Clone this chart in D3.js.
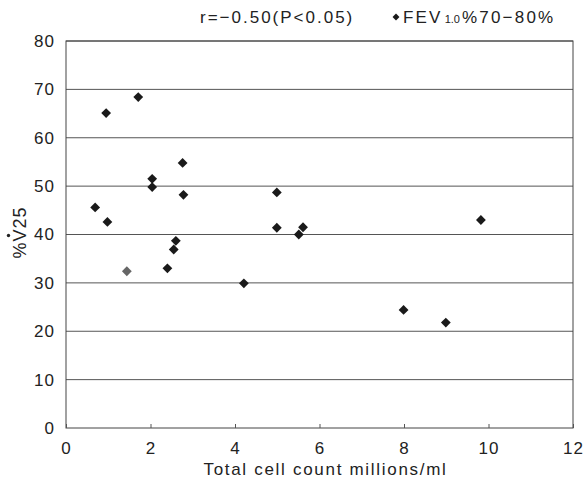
<!DOCTYPE html>
<html><head><meta charset="utf-8">
<script src="https://cdn.jsdelivr.net/npm/d3@7"></script>
<style>body{margin:0;background:#fff}svg{display:block}text{font-family:"Liberation Sans",Arial,Helvetica,sans-serif;fill:#222}</style>
</head><body><div id="chart"></div>
<script>
const cellCount = [1.71,0.95,2.76,2.04,2.04,2.78,0.69,0.98,4.99,4.99,5.61,5.51,2.60,2.55,1.44,2.40,4.21,9.82,7.99,8.99];
const v25 = [68.4,65.1,54.8,51.5,49.8,48.2,45.6,42.6,48.7,41.4,41.5,40.0,38.7,36.9,32.4,33.0,29.9,43.0,24.4,21.8];
const xTicks = [0,2,4,6,8,10,12];
const yTicks = [0,10,20,30,40,50,60,70,80];
const corrText = "r=\u22120.50(P<0.05)";
const legendLabel = ["FEV","1.0","%70\u221280%"];
const xTitle = "Total cell count millions/ml";
const yTitle = ["%","V","25"];

const W=588,H=482, m={l:66,r:15,t:41,b:54};
const FS=17;
const svg=d3.select("#chart").append("svg").attr("width",W).attr("height",H);
const x=d3.scaleLinear().domain([0,12]).range([m.l,W-m.r]);
const y=d3.scaleLinear().domain([0,80]).range([H-m.b,m.t]);

// gridlines
svg.append("g").selectAll("line").data(yTicks.filter(d=>d>0)).join("line")
  .attr("x1",x(0)).attr("x2",x(12)).attr("y1",d=>y(d)).attr("y2",d=>y(d))
  .attr("stroke","#555").attr("stroke-width",1);
// frame
svg.append("rect").attr("x",x(0)).attr("y",y(80)).attr("width",x(12)-x(0)).attr("height",y(0)-y(80))
  .attr("fill","none").attr("stroke","#444").attr("stroke-width",1);

// x axis
const xa=svg.append("g").attr("transform",`translate(0,${y(0)})`)
  .call(d3.axisBottom(x).tickValues(xTicks).tickSize(-4).tickPadding(14).tickFormat(d3.format("d")));
xa.select(".domain").remove();
xa.selectAll("line").attr("stroke","#555");
xa.selectAll("text").attr("font-size",FS).attr("letter-spacing","1px").attr("fill","#222").attr("font-family","Liberation Sans, Arial, sans-serif");
// y axis
const ya=svg.append("g").attr("transform",`translate(${x(0)},0)`)
  .call(d3.axisLeft(y).tickValues(yTicks).tickSize(0).tickPadding(11).tickFormat(d3.format("d")));
ya.select(".domain").remove();
ya.selectAll("text").attr("font-size",FS).attr("letter-spacing","1px").attr("fill","#222").attr("font-family","Liberation Sans, Arial, sans-serif");

// points
const pts=cellCount.map((c,i)=>({x:c,y:v25[i]}));
svg.append("g").selectAll("path").data(pts).join("path")
  .attr("d",d3.symbol(d3.symbolSquare,48))
  .attr("transform",d=>`translate(${x(d.x)},${y(d.y)}) rotate(45)`)
  .attr("fill",(d,i)=>i===14?"#666":"#1a1a1a");

// titles
svg.append("text").attr("x",(x(0)+x(12))/2+6).attr("y",H-7).attr("text-anchor","middle")
  .attr("font-size",FS).attr("letter-spacing","1.7px").text(xTitle);
const yg=svg.append("g").attr("transform",`translate(26,${y(40)-2}) rotate(-90)`);
const yl=yg.append("text").attr("text-anchor","middle").attr("font-size",18).attr("letter-spacing","1px");
yl.append("tspan").text(yTitle[0]);
yl.append("tspan").text(yTitle[1]);
yl.append("tspan").text(yTitle[2]);
// dot over V
const tn=yl.node();
const total=tn.getComputedTextLength();
const pre=tn.getSubStringLength(0,1), vw=tn.getSubStringLength(1,1);
const vx=-total/2+pre+vw/2-0.5;
yg.append("circle").attr("cx",vx).attr("cy",-17.5).attr("r",1.7).attr("fill","#222");

// header
svg.append("text").attr("x",200).attr("y",23).attr("font-size",FS).attr("letter-spacing","2px").text(corrText);
svg.append("path").attr("d",d3.symbol(d3.symbolSquare,24)).attr("transform","translate(396,17) rotate(45)").attr("fill","#1a1a1a");
const lt=svg.append("text").attr("x",403).attr("y",23).attr("font-size",FS).attr("letter-spacing","2.2px");
lt.append("tspan").text(legendLabel[0]);
lt.append("tspan").attr("font-size",11).attr("letter-spacing","0px").attr("dx",2).text(legendLabel[1]);
lt.append("tspan").attr("dx",2).text(legendLabel[2]);
</script></body></html>
